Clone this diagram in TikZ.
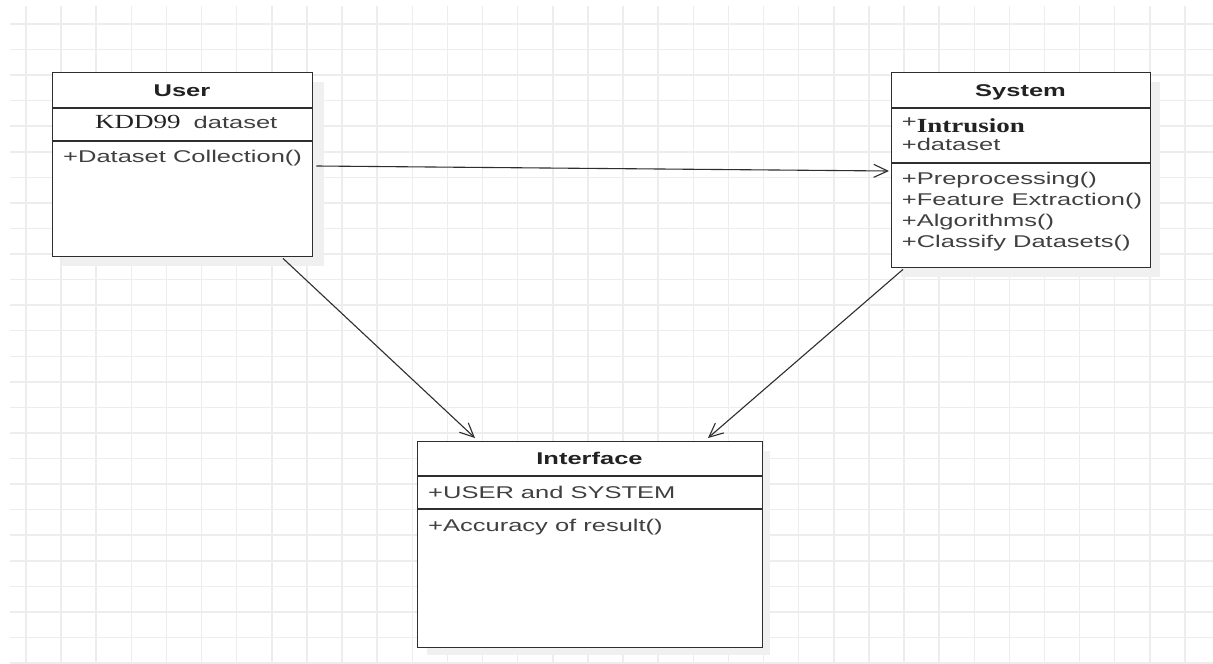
\documentclass[tikz,border=0pt]{standalone}
\usepackage{fontspec}
\setmainfont{Liberation Sans}[FakeStretch=1.5]
\newfontfamily\serifx{Liberation Serif}[FakeStretch=1.35]
\usetikzlibrary{arrows.meta,calc}
\definecolor{gridc}{HTML}{EDEDED}
\definecolor{boxc}{HTML}{2E2E2E}
\definecolor{txtc}{HTML}{404040}
\definecolor{titc}{HTML}{222222}
\definecolor{shadc}{HTML}{F0F0F0}
\begin{document}
\begin{tikzpicture}[x=1pt,y=-1pt,
  gridline/.style={draw=gridc,line width=1.5pt},
  classbox/.style={draw=boxc,line width=1.4pt,fill=white,anchor=north west,inner sep=0pt},
  divider/.style={draw=boxc,line width=1.4pt},
  boxshadow/.style={fill=shadc,draw=none},
  title/.style={font=\fontsize{17}{20}\selectfont\bfseries,text=titc,inner sep=0pt,anchor=base},
  item/.style={font=\fontsize{17}{20}\selectfont,text=txtc,inner sep=0pt,anchor=base west},
  arr/.style={draw=boxc,line width=1.1pt,-{Straight Barb[length=14pt,width=13pt,line width=1.1pt]}}]
\useasboundingbox[fill=white] (0,0) rectangle (1213,664);
% grid
\foreach \i in {0,...,33} \draw[gridline] ({26+35.12*\i},6) -- ({26+35.12*\i},664);
\foreach \j in {0,...,25} \draw[gridline] (10,{24+25.56*\j}) -- (1213,{24+25.56*\j});
% shadows
\fill[boxshadow] (62,82) rectangle (324,266);
\fill[boxshadow] (901,82) rectangle (1160,277);
\fill[boxshadow] (427,451) rectangle (770,655);
% boxes
\node[classbox,minimum width=260pt,minimum height=184pt] (user) at (52,72) {};
\node[classbox,minimum width=259pt,minimum height=195pt] (system) at (891,72) {};
\node[classbox,minimum width=345pt,minimum height=206pt] (interface) at (417,441) {};
% dividers
\draw[divider] (user.west |- 0,108) -- (user.east |- 0,108);
\draw[divider] (user.west |- 0,141) -- (user.east |- 0,141);
\draw[divider] (system.west |- 0,108) -- (system.east |- 0,108);
\draw[divider] (system.west |- 0,163) -- (system.east |- 0,163);
\draw[divider] (interface.west |- 0,476) -- (interface.east |- 0,476);
\draw[divider] (interface.west |- 0,509) -- (interface.east |- 0,509);
% User texts
\node[title] (usert) at (182,96) {User};
\node[item] (usera) at (95,128) {{\serifx\fontsize{20}{24}\selectfont\color{titc}KDD99}\hspace{13pt}dataset};
\node[item] (userm) at (63,162) {+Dataset Collection()};
% System texts
\node[title] (syst) at (1020.5,96) {System};
\node[item] (sysa1) at (901.7,132.7) {\raisebox{5pt}{+}{\serifx\bfseries\fontsize{20}{24}\selectfont\color{titc}Intrusion}};
\node[item] (sysa2) at (901.7,150.5) {+dataset};
\node[item] (sysm1) at (901.7,184) {+Preprocessing()};
\node[item] (sysm2) at (901.7,205) {+Feature Extraction()};
\node[item] (sysm3) at (901.7,226.5) {+Algorithms()};
\node[item] (sysm4) at (901.7,247.5) {+Classify Datasets()};
% Interface texts
\node[title] (intt) at (589.5,464) {Interface};
\node[item] (inta) at (428,498) {+USER and SYSTEM};
\node[item] (intm) at (428,531.5) {+Accuracy of result()};
% connectors
\draw[arr] ($(user.north east)+(3,94)$) -- ($(system.north west)+(-2,99)$);
\draw[arr] ($(user.south west)+(231,1)$) -- ($(interface.north west)+(58,-3)$);
\draw[arr] ($(system.south west)+(12,1)$) -- ($(interface.north west)+(291,-3)$);
\end{tikzpicture}
\end{document}
